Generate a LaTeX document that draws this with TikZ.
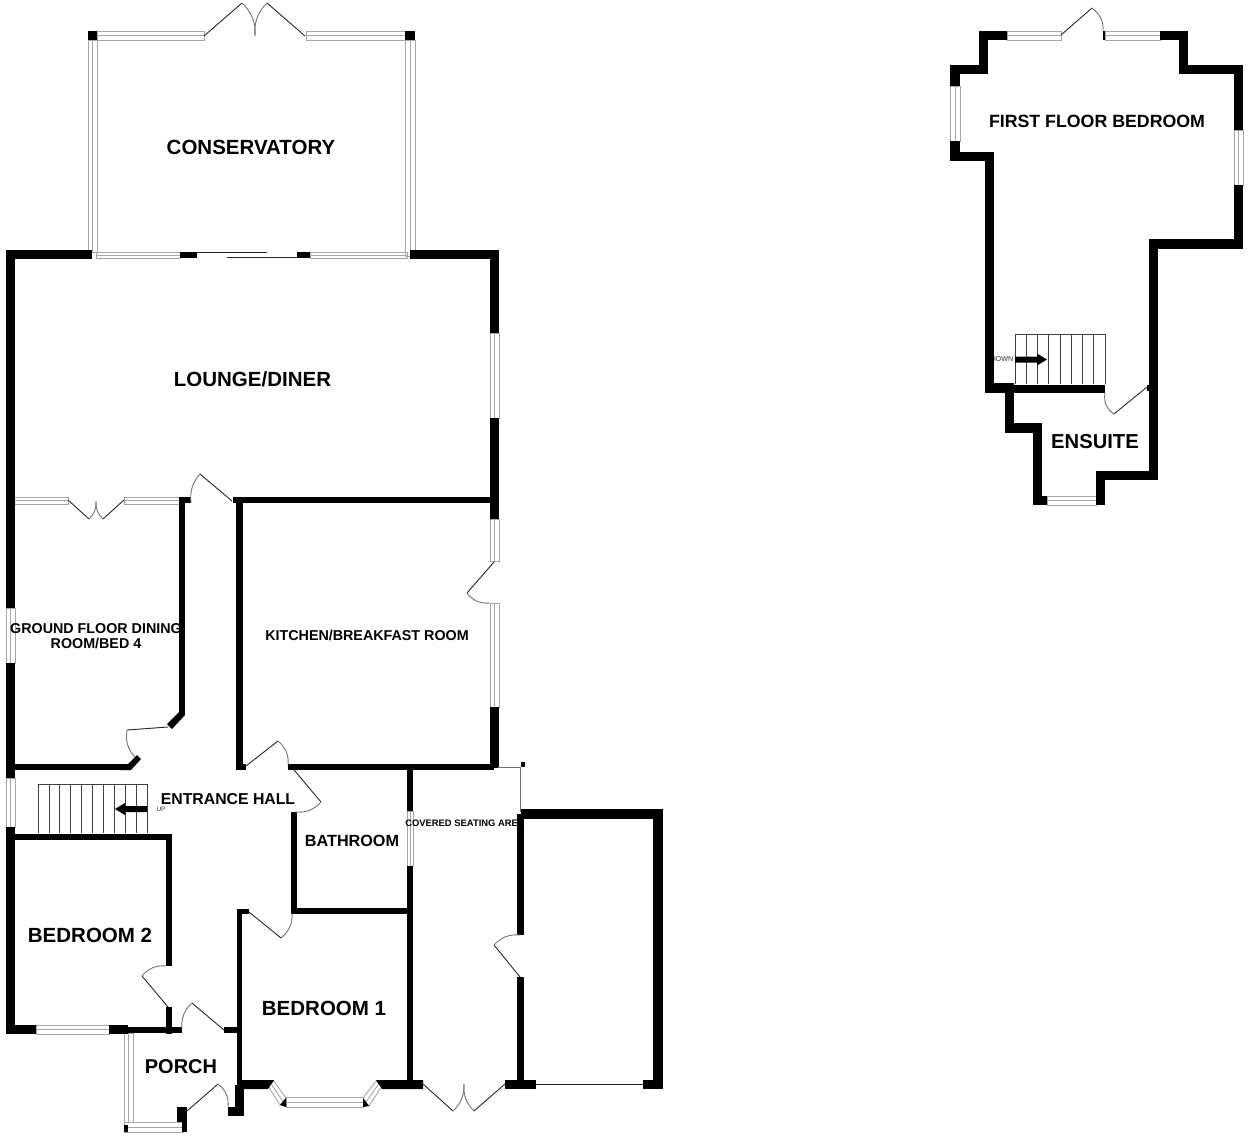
\documentclass[tikz,border=0pt]{standalone}
\usepackage{fontspec}
\setmainfont{Liberation Sans}
\usetikzlibrary{calc}
\definecolor{glassgray}{gray}{.65}
\tikzset{
	wall/.style={fill=black},
	glass/.style={draw=glassgray, line width=.9pt},
	leaf/.style={draw=black!85, line width=.9pt},
	swing/.style={draw=black!55, line width=.9pt},
	tread/.style={draw=black!75, line width=.7pt},
	roomlabel/.style={inner sep=0pt, align=center, font=\bfseries\fontsize{#1}{#1}\selectfont},
	stairnote/.style={inner sep=0pt, text=black!80, font=\fontsize{#1}{#1}\selectfont}
}
\newcommand{\winh}[4]{\draw[glass] (#1,#3) rectangle (#2,#4) (#1,{(#3+#4)/2})--(#2,{(#3+#4)/2});}
\newcommand{\winv}[4]{\draw[glass] (#1,#3) rectangle (#2,#4) ({(#1+#2)/2},#3)--({(#1+#2)/2},#4);}
\newcommand{\doorway}[3]{\draw[leaf] (#1)--(#2);
	\coordinate (swingc) at ($(#1)!1.18!($(#2)!.5!(#3)$)$);
	\draw[swing] (#2) .. controls ($(#2)!.667!(swingc)$) and ($(#3)!.667!(swingc)$) .. (#3);}
\begin{document}
\begin{tikzpicture}[x=1pt,y=-1pt,line join=miter]
	\useasboundingbox (0,0) rectangle (1248,1136);
	%windows, ground floor
	\winh{97}{204}{31}{40} \winh{306}{405}{31}{40}
	\winv{88}{97}{40}{252} \winv{405}{415}{40}{256}
	\winh{96}{180}{252}{258} \winh{310}{407}{252}{258}
	\winv{490}{499}{333}{418} \winv{490}{499}{519}{561} \winv{490}{499}{603}{707}
	\winh{14}{68}{497}{504} \winh{124}{179}{497}{504}
	\winv{6}{15}{608}{663} \winv{6}{15}{778}{827}
	\winh{36}{109}{1025}{1034}
	\winv{124}{133}{1033}{1122} \winh{124}{183}{1122}{1132}
	\winv{407}{413}{811}{866}
	\winh{286}{363}{1097}{1107}
	\draw[glass] (268,1086)--(274,1081)--(286,1098)--(280,1105)--cycle (271,1083.5)--(283,1101.5);
	\draw[glass] (363,1098)--(376,1081)--(382,1086)--(369,1106)--cycle (366,1102)--(379,1083.5);
	%windows, first floor
	\winh{1007}{1061}{31}{40} \winh{1105}{1160}{31}{40}
	\winv{950}{960}{86}{141} \winv{1234}{1243}{130}{185}
	\winh{1047}{1096}{496}{505}
	%stairs
	\foreach \n in {0,...,10} \draw[tread] ({38+10.9*\n},784)--({38+10.9*\n},833);
	\draw[tread] (38,784)--(147,784);
	\foreach \n in {0,...,8} \draw[tread] ({1015+11.25*\n},334)--({1015+11.25*\n},384);
	\draw[tread] (1015,334)--(1105,334);
	\fill (147,806)--(125,806)--(125,803)--(115,809)--(125,815)--(125,812)--(147,812)--cycle;
	\fill (1015,356.5)--(1037,356.5)--(1037,353.5)--(1047,359.5)--(1037,365.5)--(1037,362.5)--(1015,362.5)--cycle;
	\node[stairnote=7.2, anchor=east] (downnote) at (1013.5,359) {DOWN};
	\node[stairnote=6.4] (upnote) at (161,809.5) {UP};
	%walls, ground floor
	\foreach \xa/\ya/\xb/\yb in {
		88/31/97/40, 405/31/415/40,
		6/250/92/259, 410/250/499/259, 180/252/197/258, 297/252/310/258,
		6/250/15/608, 6/663/15/778, 6/827/15/1034,
		490/250/499/333, 490/418/499/519, 490/707/499/768,
		233/497/499/503, 236/497/243/770, 236/764/246/770, 288/764/494/770,
		179/497/185/715, 179/497/191/503, 15/764/128/770,
		6/834/172/840, 166/834/172/966, 166/1007/172/1034,
		6/1025/36/1034, 109/1025/128/1034, 128/1027/182/1033, 224/1027/238/1033,
		291/812/297/914, 291/908/413/914, 407/770/413/811, 407/866/413/1089,
		237/909/242/1089, 237/909/249/914, 235/1085/244/1116, 228/1107/244/1116,
		177/1107/187/1122, 182/1122/187/1132, 124/1125/128/1132,
		521/809/663/819, 653/809/663/1089, 517/814/524/935, 517/977/524/1089,
		505/1080/536/1089, 643/1080/663/1089, 521/762/525/767}
		\fill[wall] (\xa,\ya) rectangle (\xb,\yb);
	\fill[wall] (185,715)--(172,729)--(167,724)--(179,712)--cycle;
	\fill[wall] (137,755)--(141,759)--(131,770)--(120,770)--(120,764)--(128,764)--cycle;
	\fill[wall] (237,1080)--(274,1080)--(268,1089)--(237,1089)--cycle;
	\fill[wall] (376,1080)--(423,1080)--(423,1089)--(382,1089)--cycle;
	\fill[wall] (280,1105)--(286,1098)--(286,1107)--cycle;
	\fill[wall] (363,1098)--(369,1106)--(363,1107)--cycle;
	%walls, first floor
	\foreach \xa/\ya/\xb/\yb in {
		979/31/1007/40, 979/31/988/74, 950/65/988/74, 950/65/960/86,
		950/141/960/161, 950/152/994/161, 985/152/994/393, 985/383/1014/393,
		1014/385/1105/393, 1005/385/1014/433, 1005/423/1042/433, 1033/423/1042/505,
		1033/496/1047/505, 1096/471/1105/505, 1096/471/1158/480, 1149/239/1158/480,
		1149/239/1243/249, 1234/185/1243/249, 1234/65/1243/130, 1179/65/1243/74,
		1179/31/1188/74, 1160/31/1188/40, 1103/31/1105/40, 1147/385/1152/391}
		\fill[wall] (\xa,\ya) rectangle (\xb,\yb);
	%doors
	\doorway{204,36}{242,3}{255,36}
	\doorway{305,36}{267,3}{255,36}
	\doorway{68,500}{89,519}{96,501}
	\doorway{124,500}{103,519}{96,501}
	\doorway{232,501}{200,474}{191,503}
	\doorway{494,562}{467,593}{490,603}
	\doorway{246,766}{278,741}{288,765}
	\doorway{168,727}{127,730}{135,757}
	\doorway{294,770}{321,802}{295,812}
	\doorway{249,912}{281,938}{292,913}
	\doorway{168,1007}{142,976}{166,966}
	\doorway{224,1030}{192,1003}{182,1029}
	\doorway{187,1111}{218,1084}{228,1107}
	\doorway{423,1084}{453,1111}{464,1084}
	\doorway{505,1084}{474,1111}{464,1084}
	\doorway{520,977}{494,945}{520,935}
	\doorway{1061,35}{1092,8}{1103,31}
	\doorway{1147,387}{1114,414}{1105,393}
	%sliding door and thin lines
	\draw[leaf] (197,252.5)--(267,252.5) (227,257)--(298,257) (536,1084)--(643,1084);
	\draw[swing] (498,767)--(520.5,767)--(520.5,812);
	%room names
	\node[roomlabel=20.5] (conservatory) at (251,147) {CONSERVATORY};
	\node[roomlabel=20.5] (lounge) at (252.5,379) {LOUNGE/DINER};
	\node[roomlabel=14.3] (dining) at (96,636) {GROUND FLOOR DINING\\[.5pt]ROOM/BED 4};
	\node[roomlabel=14.3] (kitchen) at (367,635) {KITCHEN/BREAKFAST ROOM};
	\node[roomlabel=15.8] (hall) at (228,799) {ENTRANCE HALL};
	\node[roomlabel=16.2] (bathroom) at (352,841) {BATHROOM};
	\node[roomlabel=9.4] (seating) at (465,823) {COVERED SEATING AREA};
	\node[roomlabel=20.5] (bedtwo) at (90,935) {BEDROOM 2};
	\node[roomlabel=20.5] (bedone) at (324,1008) {BEDROOM 1};
	\node[roomlabel=20] (porch) at (181,1067) {PORCH};
	\node[roomlabel=17.75] (firstbed) at (1097,121) {FIRST FLOOR BEDROOM};
	\node[roomlabel=20.2] (ensuite) at (1095,442) {ENSUITE};
\end{tikzpicture}
\end{document}
